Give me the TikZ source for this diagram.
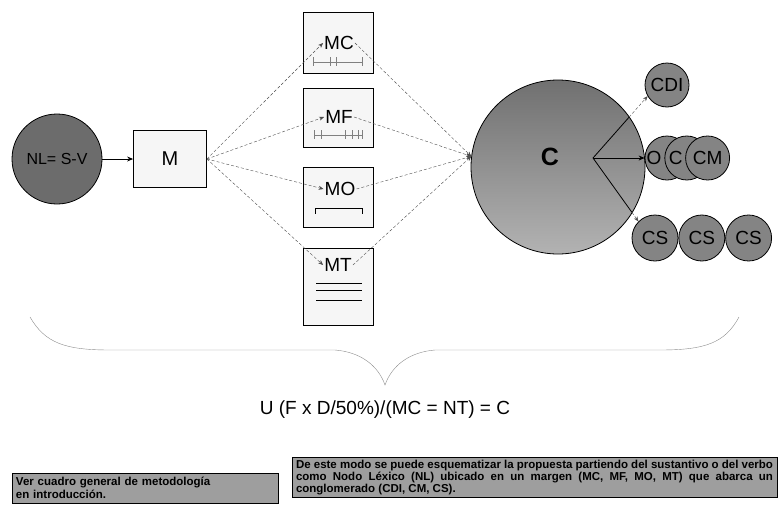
\documentclass[tikz,border=0pt]{standalone}
\usepackage{fontspec}
\setmainfont{Liberation Sans}
\usetikzlibrary{positioning,arrows.meta,calc}
\definecolor{DiskGray}{RGB}{132,132,132}
\definecolor{NodeDark}{RGB}{108,108,108}
\definecolor{NoteGray}{RGB}{158,158,158}
\definecolor{PaperGray}{RGB}{246,246,246}
\newcommand{\sz}[1]{\fontsize{#1}{#1}\selectfont}

\begin{document}
\begin{tikzpicture}[x=1pt, y=-1pt, every node/.style={align=center, inner sep=0pt},
  mbox/.style={draw, thick, fill=PaperGray, minimum width=70pt},
  disk/.style={circle, draw, thick, fill=DiskGray, font=\sz{19}},
  fan/.style={densely dashed, black!70, -{Stealth[length=5pt,width=4pt]}},
  ruler/.style={gray, thin},
  note/.style={draw, fill=NoteGray, inner sep=3pt}]
  \useasboundingbox (0,0) rectangle (781,517);
  % nucleus and margin
  \node[circle, draw, thick, fill=NodeDark, minimum size=90pt, font=\sz{16}] (nl) at (57,159) {NL= S-V};
  \node[draw, thick, fill=PaperGray, minimum width=73pt, minimum height=57pt, font=\sz{20}] (m) at (170,159) {M};
  \draw[-{Stealth[length=6pt,width=5pt]}, thick] (nl) -- (m);
  % margin boxes
  \node[mbox, minimum height=61pt] (bmc) at (338,42.5) {};
  \node[mbox, minimum height=59pt] (bmf) at (338,117.5) {};
  \node[mbox, minimum height=60pt] (bmo) at (338,197) {};
  \node[mbox, minimum height=77pt] (bmt) at (338,286.5) {};
  \node[font=\sz{19}, inner sep=1pt] (mc) at (339,43) {MC};
  \node[font=\sz{19}, inner sep=1pt] (mf) at (339,117) {MF};
  \node[font=\sz{19}, inner sep=1pt] (mo) at (340,189) {MO};
  \node[font=\sz{19}, inner sep=1pt] (mt) at (338,265) {MT};
  % small rulers inside the boxes
  \draw[ruler] (313,62) -- (362,62);
  \foreach \t in {313,330,336,362} \draw[ruler] (\t,57) -- (\t,66);
  \draw[ruler] (314,135) -- (362,135);
  \foreach \t in {314,321,345,352,358,362} \draw[ruler] (\t,130) -- (\t,139);
  \draw[thick] (315,208) -- (362,208);
  \foreach \t in {315,362} \draw (\t,208) -- (\t,214);
  \draw[thick] (316,283) -- (362,283);
  \draw[thick] (316,290) -- (362,290);
  \draw (316,300) -- (362,300);
  % conglomerate
  \node[circle, draw, thick, minimum size=174pt, top color=black!56, bottom color=black!30] (c) at (558,167) {};
  \node[font=\sz{25}\bfseries] (cl) at (550,157) {C};
  \coordinate (hub) at (c.173);
  \foreach \k in {mc,mf,mo,mt} {
    \draw[fan] (m.east) -- (\k.west);
    \draw[fan] (\k.east) -- (hub);
  }
  \node[disk, minimum size=44pt] (cdi) at (667,85) {CDI};
  \node[disk, minimum size=44pt, label={[font=\sz{19}, xshift=-13pt]center:O}] (oc1) at (667,158) {};
  \node[disk, minimum size=44pt, right=-25pt of oc1, label={[font=\sz{19}, xshift=-11pt]center:C}] (oc2) {};
  \node[disk, minimum size=44pt, right=-24pt of oc2] (oc3) {CM};
  \node[disk, minimum size=46pt] (cs1) at (655,238) {CS};
  \node[disk, minimum size=46pt, right=0pt of cs1] (cs2) {CS};
  \node[disk, minimum size=46pt, right=0pt of cs2] (cs3) {CS};
  \coordinate (fork) at (593,158);
  \coordinate (up) at ($(fork)!0.66!(cdi.210)$);
  \coordinate (dn) at ($(fork)!0.855!(cs1.135)$);
  \draw[thick] (fork) -- (up);
  \draw[thick] (fork) -- (dn);
  \draw[fan] (up) -- (cdi.210);
  \draw[fan] (dn) -- (cs1.135);
  \draw[thick, -{Stealth[length=6pt,width=5pt]}] (fork) -- (oc1.west);
  % brace and formula
  \draw[black!45] (30,317) .. controls (45,343) and (65,350) .. (110,350) -- (335,350)
    .. controls (360,352) and (378,365) .. (385,385)
    .. controls (392,365) and (410,352) .. (435,350) -- (660,350)
    .. controls (705,350) and (725,343) .. (739,317);
  \node[font=\sz{19}] (form) at (385,410) {U (F x D/50\%)/(MC = NT) = C};
  % notes
  \node[note, minimum width=266pt, minimum height=30pt, text width=258pt, align=left,
    font=\fontsize{11.5}{13}\selectfont\bfseries] (ver) at (145,488)
    {Ver cuadro general de metodología\\en introducción.};
  \node[note, minimum width=485pt, minimum height=35pt, text width=477pt, align=justify,
    font=\fontsize{11.5}{10.5}\selectfont\bfseries] (modo) at (534.5,477.5)
    {De este modo se puede esquematizar la propuesta partiendo del sustantivo o del verbo\linebreak
     como Nodo Léxico (NL) ubicado en un margen (MC, MF, MO, MT) que abarca un\linebreak
     conglomerado (CDI, CM, CS).};
\end{tikzpicture}
\end{document}
